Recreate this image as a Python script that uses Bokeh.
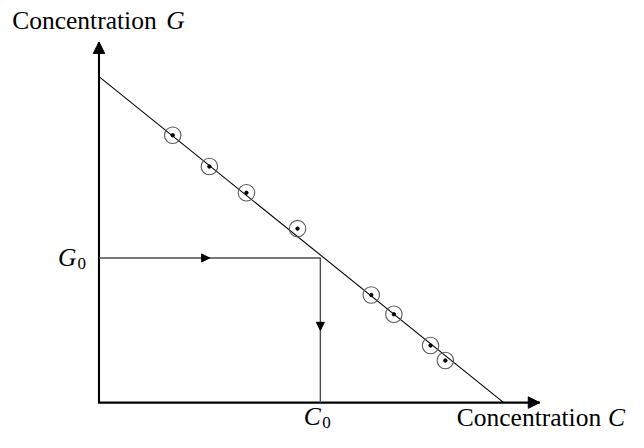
from bokeh.plotting import figure
from bokeh.models import Range1d, Arrow, NormalHead
from bokeh.core.properties import value
from bokeh.embed import file_html
from bokeh.resources import INLINE

# ---- data (chart units, origin at the axes' intersection) ----
obs_c = [1.89, 2.83, 3.78, 5.09, 6.98, 7.56, 8.50, 8.88]
obs_g = [6.93, 6.12, 5.44, 4.51, 2.79, 2.29, 1.48, 1.09]
fit_c = [0.0, 10.375]
fit_g = [8.45, 0.0]
G0 = 3.75
C0 = 5.675
axis_c_max = 11.3
axis_g_max = 9.35
x_title = "Concentration"
x_sym = "C"
y_title = "Concentration"
y_sym = "G"
g0_sym, c0_sym, sub0 = "G", "C", "0"

# ---- layout helpers (design pixel on a 644x448 sheet -> chart units) ----
S = 40.0
OX, OY = 101.0, 417.0
SHEET_W, SHEET_H = 644, 448
W, H = 628, 432
def px(x):
    return (x - OX) / S
def py(y):
    return (OY - y) / S

p = figure(width=W, height=H, output_backend="svg", toolbar_location=None,
           x_range=Range1d(px(0), px(SHEET_W)), y_range=Range1d(py(SHEET_H), py(0)),
           x_axis_location=None, y_axis_location=None, min_border=0,
           outline_line_color=None, background_fill_color="white")
p.grid.visible = False

# axes with arrow heads
p.line([0, 0, axis_c_max], [axis_g_max, 0, 0], line_color="black", line_width=2.1,
       line_join="miter")
for xs, ys, xe, ye in [(0, axis_g_max - 0.3, 0, axis_g_max), (axis_c_max - 0.3, 0, axis_c_max, 0)]:
    p.add_layout(Arrow(x_start=xs, y_start=ys, x_end=xe, y_end=ye, line_alpha=0,
                       end=NormalHead(size=11.5, fill_color="black", line_color="black", line_width=1)))

# fitted line
p.line(fit_c, fit_g, line_color="black", line_width=1.1)

# G0 -> C0 path
p.line([0, C0, C0], [G0, G0, 0], line_color="#4d4d4d", line_width=1.4)
p.add_layout(Arrow(x_start=C0 * 0.45, y_start=G0, x_end=C0 * 0.5, y_end=G0, line_alpha=0,
                   end=NormalHead(size=8, fill_color="black", line_color="black", line_width=1)))
p.add_layout(Arrow(x_start=C0, y_start=G0 * 0.55, x_end=C0, y_end=G0 * 0.5, line_alpha=0,
                   end=NormalHead(size=8, fill_color="black", line_color="black", line_width=1)))

# observations
p.scatter(obs_c, obs_g, marker="circle", size=16.5, fill_color=None,
          line_color="#5a5a5a", line_width=1.1)
p.scatter(obs_c, obs_g, marker="circle", size=3.4, fill_color="black", line_color="black")

font = "Liberation Serif"
BIG, SMALL = 25.5, 17
def lab(x, y, t, size, style="normal", align="left"):
    # compensate the renderer's downward text offset (~0.32 em)
    y_adj = y - 0.32 * size
    p.text(x=[px(x)], y=[py(y_adj)], text=[t], text_font=value(font),
           text_font_size=value(f"{size}px"), text_font_style=style, text_align=align,
           text_baseline="alphabetic", text_color="black")

# y-axis title
lab(12, 29, y_title, BIG)
lab(170, 29, y_sym, BIG, "italic")
# x-axis title
lab(616, 441, x_title, BIG, align="right")
lab(623, 441, x_sym, BIG, "italic")
# G0
lab(59, 275, g0_sym, BIG, "italic")
lab(79, 278, sub0, SMALL)
# C0
lab(311, 440, c0_sym, BIG, "italic")
lab(330, 443, sub0, SMALL)

open("out.html", "w").write(file_html(p, INLINE))
